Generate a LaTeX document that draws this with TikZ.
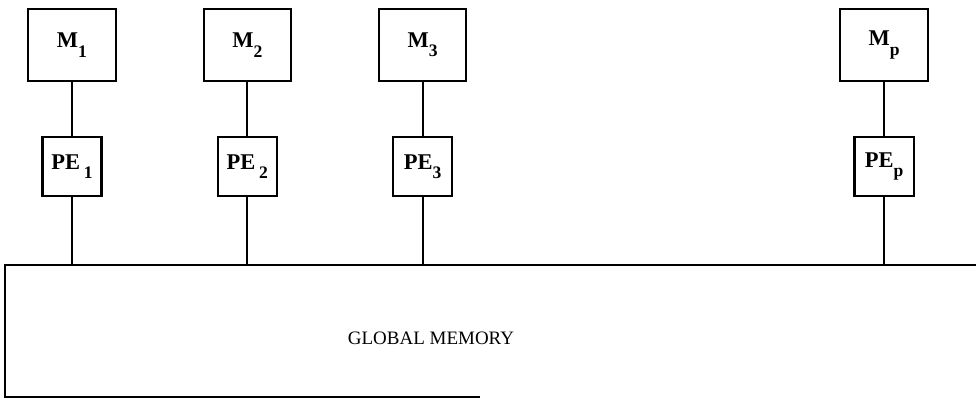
\documentclass[tikz,border=0pt]{standalone}
\usepackage{fontspec}
\setmainfont{Liberation Serif}
\usetikzlibrary{positioning}
\newcommand{\lowsub}[1]{\raisebox{-0.42em}{\fontsize{12.5}{14}\selectfont #1}}

\begin{document}
\begin{tikzpicture}[
    x=0.025cm, y=0.025cm,
    node distance=1.35cm and 2.15cm,
    unit/.style={draw, rectangle, line width=1.5pt, inner sep=0pt, font=\fontsize{16}{18}\selectfont\bfseries},
    mem/.style={unit, minimum width=62pt, minimum height=51pt},
    pe/.style={unit, minimum width=42pt, minimum height=42pt},
    link/.style={line width=1.3pt},
    bus/.style={line width=1.6pt}
]
    \useasboundingbox (0,0) rectangle (976,400);

    % Memories
    \node[mem] (m1) at (72,355) {M\lowsub{1}};
    \node[mem] (m2) [right=of m1] {M\lowsub{2}};
    \node[mem] (m3) [right=of m2] {M\lowsub{3}};
    \node[mem] (mp) [right=9.3cm of m3] {M\lowsub{p}};

    % Processing elements
    \node[pe] (pe1) [below=of m1] {PE\,\lowsub{1}};
    \node[pe] (pe2) [below=of m2] {PE\,\lowsub{2}};
    \node[pe] (pe3) [below=of m3] {PE\lowsub{3}};
    \node[pe] (pep) [below=of mp] {PE\lowsub{p}};

    % Global memory (open to the right)
    \coordinate (busR) at (976,135);
    \coordinate (busL) at (5,135);
    \coordinate (botL) at (5,3);
    \coordinate (botR) at (480,3);
    \draw[bus] (busR) -- (busL) -- (botL) -- (botR);
    \node[font=\fontsize{13.5}{16}\selectfont] (gm) at (431,62) {GLOBAL MEMORY};

    % Connections
    \draw[link] (m1) -- (pe1);
    \draw[link] (m2) -- (pe2);
    \draw[link] (m3) -- (pe3);
    \draw[link] (mp) -- (pep);
    \draw[link] (pe1) -- (pe1 |- busL);
    \draw[link] (pe2) -- (pe2 |- busL);
    \draw[link] (pe3) -- (pe3 |- busL);
    \draw[link] (pep) -- (pep |- busL);
\end{tikzpicture}
\end{document}
